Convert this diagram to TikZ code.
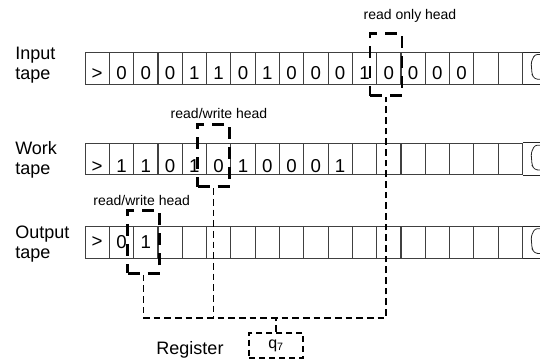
\documentclass[tikz,border=0pt]{standalone}
\usepackage{fontspec}
\setmainfont{Liberation Sans}
\usetikzlibrary{positioning, calc}

\begin{document}
\begin{tikzpicture}[x=0.75pt, y=-0.75pt,
        tapecell/.style={rectangle, draw=black!75, line width=0.6pt, inner sep=0pt, minimum width=18.2pt, minimum height=23.6pt, font=\fontsize{14}{16}\selectfont},
        tapeline/.style={draw=black!85, line width=0.6pt},
        headbox/.style={rectangle, draw, line width=2.2pt, dash pattern=on 9pt off 6pt, minimum width=24pt, minimum height=47pt},
        link/.style={draw, line width=1.4pt, dash pattern=on 5pt off 3pt},
        regbox/.style={rectangle, draw, line width=1.3pt, dash pattern=on 4.5pt off 3pt, minimum width=40.5pt, minimum height=19pt, inner sep=0pt, font=\fontsize{12}{14}\selectfont},
        tapelabel/.style={anchor=west, align=left, inner sep=0pt, font=\fontsize{13.5}{15}\selectfont},
        headlabel/.style={inner sep=0pt, font=\fontsize{10.5}{12}\selectfont}]

    \useasboundingbox (0,0) rectangle (540,360);

    % Tapes
    \foreach \s [count=\i from 0] in {>,0,0,0,1,1,0,1,0,0,0,1,0,0,0,0,{},{}}
        \node (in-\i) [tapecell, text height=17.5pt, text depth=0pt] at ({97.15+24.3*\i},68.3) {\s};
    \foreach \s [count=\i from 0] in {>,1,1,0,1,0,1,0,0,0,1,{},{},{},{},{},{},{}}
        \node (work-\i) [tapecell, text height=20pt, text depth=0pt] at ({97.15+24.3*\i},159) {\s};
    \foreach \s [count=\i from 0] in {>,0,1,{},{},{},{},{},{},{},{},{},{},{},{},{},{},{}}
        \node (out-\i) [tapecell] at ({97.15+24.3*\i},242.5) {\s};

    % Tape ends
    \foreach \t in {in,work,out} {
        \draw[tapeline] (\t-17.north east) -- ++(19,0);
        \draw[tapeline] (\t-17.south east) -- ++(19,0);
        \draw[tapeline, rounded corners=2pt] ([shift={(19,2.3)}]\t-17.north east) -- ([shift={(12,2.3)}]\t-17.north east)
            -- ([shift={(8.3,10)}]\t-17.north east) -- ([shift={(9.3,22.5)}]\t-17.north east)
            -- ([shift={(11.8,26.8)}]\t-17.north east) -- ([shift={(19,27.3)}]\t-17.north east);
    }

    \node (inlabel) [tapelabel] at (15,65) {Input\\tape};
    \node (worklabel) [tapelabel] at (15,159.5) {Work\\tape};
    \node (outlabel) [tapelabel] at (15,244) {Output\\tape};

    % Heads
    \node (inhead) [headbox] at (386,64.5) {};
    \node (workhead) [headbox] at (213.5,155.5) {};
    \node (outhead) [headbox] at (143.5,242) {};

    \node (inheadlabel) [headlabel] at (410,16) {read only head};
    \node (workheadlabel) [headlabel] at (219,113) {read/write head};
    \node (outheadlabel) [headlabel] at (141.7,200) {read/write head};

    % Register
    \node (reg) [regbox] at (276,345.5) {q\textsubscript{7}};
    \node (reglabel) [tapelabel, anchor=center] at (190,350) {Register};

    % Connections to the register
    \coordinate (bus) at (0,318);
    \draw[link] (outhead.south) |- (bus -| inhead.south) -- (inhead.south);
    \draw[link] (workhead.south) -- (workhead.south |- bus);
    \draw[link] (reg.north) -- (reg.north |- bus);

\end{tikzpicture}
\end{document}
